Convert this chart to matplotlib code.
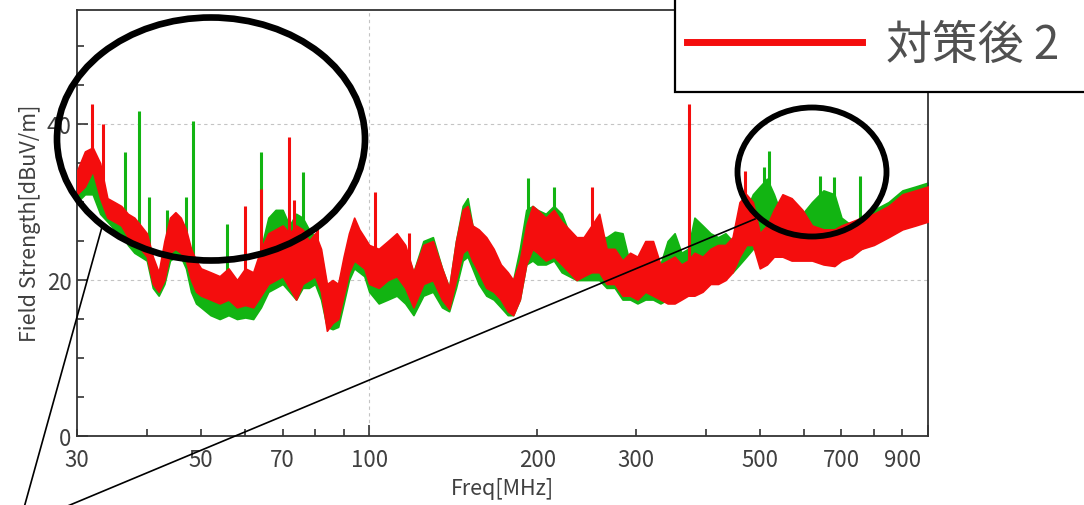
# 放射ノイズ測定結果（対策後2）の再現プロット
import numpy as np
import matplotlib
matplotlib.use("Agg")
import matplotlib.pyplot as plt
from matplotlib.patches import Ellipse, Rectangle
from matplotlib.lines import Line2D
from matplotlib.ticker import FixedLocator, FixedFormatter, NullFormatter

plt.rcParams["font.family"] = ["Noto Sans CJK JP", "DejaVu Sans"]

# ---- 測定データ（画像から読み取った包絡線） ----
freq_mhz = [30, 31, 32, 33, 34, 35, 36, 37, 38, 39, 40, 41, 42, 43, 44, 45, 46, 47, 48, 49, 50,
            52, 54, 56, 58, 60, 62, 64, 66, 68, 70,
            72, 74, 76, 78, 80, 82, 84, 86, 88, 90, 92, 94, 96, 98, 100,
            104, 108, 112, 116, 120,
            125, 130, 135, 139, 143, 147, 150, 153, 157, 162, 167, 172, 177, 181, 186, 191, 196, 200,
            207, 214, 221, 228, 235, 242, 250, 258, 266, 275, 284, 293, 302, 312, 322, 332, 342, 352,
            362, 372, 382, 395, 408, 421, 434, 447, 460, 473, 486, 500,
            515, 530, 549, 570, 596, 620, 650, 680, 700, 730, 760, 800, 850, 900, 950, 1000]

red_hi = [34, 36.5, 37, 35, 30.5, 30, 29.5, 28.5, 28, 27, 26, 23, 21, 25, 28, 28.7, 28, 26.5, 24, 22.5, 21.5,
          21, 20.5, 21.5, 20, 21.5, 21, 24, 26, 26.5, 27,
          26, 27, 26.5, 25, 26, 24, 19.5, 20, 19.5, 23, 26, 28, 26.5, 25.5, 24.5,
          24, 25, 26, 24.5, 21,
          24.5, 25, 21.5, 19, 25, 29, 29.5, 27, 26.5, 25.5, 24, 22, 21, 20, 22.5, 27, 29.5, 29,
          28, 29, 27.5, 26.5, 25.5, 25.5, 27, 28.5, 24, 24, 22.5, 23.5, 23, 25, 25, 22, 22.5, 23,
          22, 22.5, 23.5, 23, 24, 24.5, 24.5, 25.5, 30, 31, 30, 26,
          27, 29, 31, 30.5, 29, 27, 26.5, 26.5, 27, 27.5, 28, 28.5, 29.5, 31, 31.5, 32]
red_lo = [31, 32, 34, 30.5, 28, 27.5, 27, 25.5, 25, 24, 23, 19.5, 18.5, 20, 23.5, 24, 23.5, 22.5, 20, 18.5, 18,
          17.5, 17, 17.5, 16.5, 16.8, 16.5, 18, 19.5, 20, 20.5,
          19, 17.5, 19.5, 20, 20.5, 18.5, 13.5, 14.5, 15, 18, 21, 22.5, 22, 21.5, 19.5,
          19, 20, 20.5, 19, 16.5,
          19.5, 20, 17.5, 16.3, 20, 23.5, 24, 22.5, 21, 19, 18.5, 17.5, 16, 15.5, 17.5, 22, 24, 23.5,
          22.5, 23, 22, 21, 20, 20.5, 21, 21, 19.5, 19.5, 18, 18, 17.5, 18.5, 18, 17.5, 17, 17,
          17.5, 18, 18, 18.5, 19.5, 19.5, 20, 21, 23, 24.5, 24.5, 21.5,
          22, 23, 23, 22.5, 22.5, 22.5, 22, 21.8, 22.5, 23, 24, 24.5, 25.5, 26.5, 27, 27.5]

green_hi = [33, 34, 35, 32, 30, 29, 28.5, 28, 27, 26, 25, 22, 20.5, 24, 27.5, 28, 27.5, 26, 23, 21.5, 20.5,
            20, 19.5, 20.5, 19.5, 20.5, 20, 24, 28, 29, 29,
            27, 28.5, 28, 26.5, 25.5, 23.5, 19, 19, 19.5, 22, 25, 27.5, 26, 25, 24,
            23, 24, 25, 24, 21,
            25, 25.5, 21.5, 19, 25, 29.5, 30.5, 27, 26, 25, 23.5, 21.5, 20.5, 20, 24, 29, 29.5, 29,
            28.5, 29.5, 28.5, 26, 25, 25, 25.5, 25.5, 25.5, 26.2, 26, 22, 22, 24, 24, 22, 25, 26,
            23.5, 24, 28, 27, 26, 25.5, 26, 25, 27, 29, 31, 32,
            33, 31, 28, 27, 28.5, 30, 31.5, 31, 28, 27, 28, 29, 30, 31.5, 32, 32.5]
green_lo = [30, 31, 31, 28.5, 27.5, 26.5, 26, 24.5, 23.5, 23, 22.5, 19, 18, 19.5, 22.5, 23, 23, 21.5, 18.5, 17, 16.5,
            15.5, 15, 15.5, 15, 15.2, 15, 16.5, 18.5, 19, 19.5,
            18.5, 17.5, 19, 19, 19.5, 17.5, 14, 13.7, 14, 17, 20, 21.5, 21, 20.5, 18.5,
            17, 17.5, 18, 17, 15.5,
            18, 18.5, 16.5, 16, 19, 22.5, 23, 21.5, 19.5, 18, 17.5, 16.5, 15.5, 15.5, 17.5, 22, 22.5, 22,
            22, 22.5, 21, 20.5, 20, 20, 20, 20, 19, 19, 17.5, 17.5, 17, 17.5, 17.5, 17, 17.5, 18,
            18, 18.5, 19, 19.5, 20, 20.5, 21, 21, 22, 23, 24, 25,
            25.5, 26, 23.5, 24.5, 24.5, 25, 25.5, 25.5, 23.5, 23.5, 24, 25, 26, 27, 27.5, 28]

# 狭帯域ノイズのピーク
red_spike_f = [31.9, 33.4, 60, 64, 72, 73.5, 80.5, 102.5, 118, 250, 374, 470]
red_spike_v = [42.6, 40, 29.5, 31.7, 38.3, 30.3, 26.8, 31.3, 26, 31.9, 42.6, 34]
green_spike_f = [36.6, 38.7, 40.3, 43.4, 47, 48.3, 55.6, 64, 76, 192, 214, 508, 520, 640, 680, 755]
green_spike_v = [36.4, 41.7, 30.6, 29, 30.6, 40.4, 27.2, 36.4, 33.8, 33.1, 31.9, 34.5, 36.5, 33.4, 33.2, 33.4]

xtick_pos = [30, 40, 50, 60, 70, 80, 90, 200, 300, 400, 500, 600, 700, 800, 900]
xtick_lbl = ["30", "", "50", "", "70", "", "", "200", "300", "", "500", "", "700", "", "900"]

GREEN = "#12b412"
RED = "#f40d0d"
TXT = "#404040"


def fx(px):
    return px / 1084


def fy(py):
    return 1 - py / 506


def draw_trace(ax, hi, lo, sp_f, sp_v, color, z):
    f = np.array(freq_mhz, float)
    ax.fill_between(f, lo, hi, color=color, lw=1.2, ec=color, zorder=z)
    base = np.interp(np.log10(sp_f), np.log10(f), hi)
    ax.vlines(sp_f, base - 1, sp_v, color=color, lw=2.2, zorder=z)


def plot():
    fig = plt.figure(figsize=(10.84, 5.06), dpi=100)
    ax = fig.add_axes([fx(77), fy(437), fx(928) - fx(77), fy(10.5) - fy(437)])

    draw_trace(ax, green_hi, green_lo, green_spike_f, green_spike_v, GREEN, 2)
    draw_trace(ax, red_hi, red_lo, red_spike_f, red_spike_v, RED, 3)

    ax.set_xscale("log")
    ax.set_xlim(30, 1000)
    ax.set_ylim(0, 54.7)

    ax.xaxis.set_major_locator(FixedLocator([100, 1000]))
    ax.xaxis.set_major_formatter(FixedFormatter(["100", ""]))
    ax.xaxis.set_minor_locator(FixedLocator(xtick_pos))
    ax.xaxis.set_minor_formatter(FixedFormatter(xtick_lbl))
    ax.yaxis.set_major_locator(FixedLocator([0, 20, 40]))
    ax.yaxis.set_minor_locator(FixedLocator([5, 10, 15, 25, 30, 35, 45, 50]))
    ax.yaxis.set_minor_formatter(NullFormatter())

    ax.tick_params(which="both", direction="in", colors="#333333", labelcolor=TXT,
                   labelsize=16, width=1.2)
    ax.tick_params(which="major", length=8)
    ax.tick_params(which="minor", length=5)
    ax.tick_params(axis="x", which="both", pad=9)
    ax.tick_params(axis="y", which="both", pad=4)

    ax.grid(True, which="major", ls=(0, (3, 3)), color="#c4c4c4", lw=0.8)
    ax.set_axisbelow(True)
    for s in ax.spines.values():
        s.set_color("#333333")
        s.set_linewidth(1.3)

    ax.set_xlabel("Freq[MHz]", fontsize=15.5, color=TXT, labelpad=4)
    ax.set_ylabel("Field Strength[dBuV/m]", fontsize=15.5, color=TXT, labelpad=4)

    # 凡例（右上、画像外へはみ出す枠）
    fig.add_artist(Rectangle((fx(675), fy(93)), 0.6, 0.6, transform=fig.transFigure,
                             fc="white", ec="black", lw=1.6, zorder=20))
    fig.add_artist(Line2D([fx(687), fx(862)], [fy(43), fy(43)], transform=fig.transFigure,
                          color=RED, lw=5, zorder=21))
    fig.text(fx(886), fy(46), "対策後 2", fontsize=33, color="#505050",
             va="center", ha="left", zorder=21)

    # 注目箇所の丸と引き出し線
    fig.add_artist(Ellipse((fx(211), fy(140)), fx(308), 243 / 506, transform=fig.transFigure,
                           fill=False, ec="black", lw=4.8, zorder=15))
    fig.add_artist(Ellipse((fx(812), fy(173)), fx(149), 129 / 506, transform=fig.transFigure,
                           fill=False, ec="black", lw=4.2, zorder=15))
    fig.add_artist(Line2D([fx(22), fx(102)], [fy(516), fy(228)], transform=fig.transFigure,
                          color="black", lw=1.2, zorder=15))
    fig.add_artist(Line2D([fx(46), fx(755)], [fy(516), fy(220)], transform=fig.transFigure,
                          color="black", lw=1.2, zorder=15))

    fig.savefig("out.png", dpi=100)


if __name__ == "__main__":
    plot()
